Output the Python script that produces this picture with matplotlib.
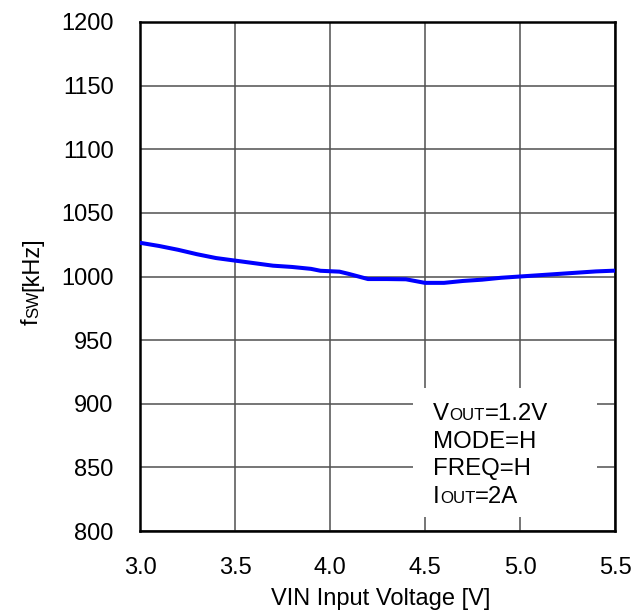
import matplotlib
matplotlib.use("Agg")
import matplotlib.pyplot as plt
from matplotlib.patches import Rectangle

plt.rcParams["font.family"] = ["Liberation Sans", "DejaVu Sans"]

# switching frequency vs input voltage
vin = [3.0, 3.1, 3.2, 3.3, 3.4, 3.5, 3.6, 3.7, 3.8, 3.9, 3.95, 4.05, 4.1,
       4.2, 4.3, 4.4, 4.5, 4.6, 4.7, 4.8, 4.9, 5.0, 5.1, 5.2, 5.3, 5.4, 5.5]
fsw = [1026.5, 1024, 1021, 1017.5, 1014.5, 1012.5, 1010.5, 1008.5, 1007.5,
       1006, 1004.5, 1003.8, 1002, 998, 998, 997.8, 995, 995, 996.5, 997.5,
       999, 1000, 1001, 1002, 1003, 1004, 1004.6]

x_ticks = [3.0, 3.5, 4.0, 4.5, 5.0, 5.5]
y_ticks = [800, 850, 900, 950, 1000, 1050, 1100, 1150, 1200]

# conditions box: (main, small caps, rest)
cond_lines = [("V", "OUT", "=1.2V"), ("MODE=H", "", ""),
              ("FREQ=H", "", ""), ("I", "OUT", "=2A")]

fig = plt.figure(figsize=(6.43, 6.14), dpi=100)
ax = fig.add_axes([140 / 643, 1 - 531 / 614, 475 / 643, 509 / 614])

ax.plot(vin, fsw, color="#0000ff", linewidth=2.9, zorder=3)

ax.set_xlim(3.0, 5.5)
ax.set_ylim(800, 1200)
ax.set_xticks(x_ticks)
ax.set_xticklabels([f"{t:.1f}" for t in x_ticks])
ax.set_yticks(y_ticks)
ax.tick_params(length=0, labelsize=17, pad=19)
ax.set_axisbelow(True)
ax.grid(True, color="#505050", linewidth=1.1)
for sp in ax.spines.values():
    sp.set_linewidth(1.8)
    sp.set_color("black")

# white box hiding grid behind the conditions text
ax.add_patch(Rectangle((4.437, 811), 0.968, 101.4, facecolor="white",
                       edgecolor="none", zorder=1))

big = 17.3
small = 12.2
y0 = 1200 - (420 - 22) / 1.2725
step = 27.6 / 1.2725
for i, (a, b, c) in enumerate(cond_lines):
    y = y0 - i * step
    t = ax.text(4.543, y, a, fontsize=big, va="baseline", ha="left", zorder=4)
    if b:
        t2 = ax.annotate(b, xy=(1, y), xycoords=(t, "data"), fontsize=small,
                         va="baseline", ha="left", zorder=4)
        ax.annotate(c, xy=(1, y), xycoords=(t2, "data"), fontsize=big,
                    va="baseline", ha="left", zorder=4)

fig.text(381 / 643, 1 - 605 / 614, "VIN Input Voltage [V]", fontsize=17,
         ha="center", va="baseline")

# y label: f + small SW on the baseline + [kHz]
yl_x = 38 / 643
t1 = fig.text(yl_x, 1 - 325 / 614, "f", fontsize=17, rotation=90,
              rotation_mode="anchor", ha="left", va="baseline")
t2 = ax.annotate("SW", xy=(yl_x, 1), xycoords=("figure fraction", t1),
                 fontsize=12.2, rotation=90, rotation_mode="anchor",
                 ha="left", va="baseline", annotation_clip=False)
ax.annotate("[kHz]", xy=(yl_x, 1), xycoords=("figure fraction", t2),
            fontsize=17, rotation=90, rotation_mode="anchor",
            ha="left", va="baseline", annotation_clip=False)

fig.savefig("out.png", dpi=100)
